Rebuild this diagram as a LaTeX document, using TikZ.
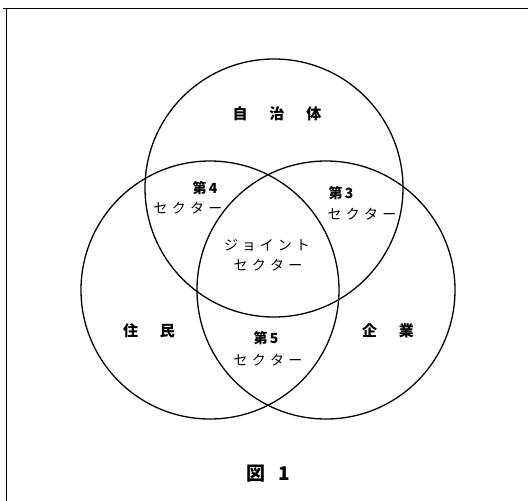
\documentclass[tikz,border=0pt]{standalone}
\usepackage{fontspec}
\newfontfamily\jp{Noto Sans CJK JP}
\newcommand{\sekuta}{セ\kern4.2ptク\kern4.2ptタ\kern4.2ptー}
\begin{document}
\begin{tikzpicture}[x=1pt,y=-1pt,
  ring/.style={circle,draw,line width=1.3pt,inner sep=0pt,minimum size=258pt},
  lbl/.style={inner sep=0pt,font=\jp\fontsize{14pt}{18pt}\selectfont},
  num/.style={inner sep=0pt,font=\jp\bfseries\fontsize{14pt}{18pt}\selectfont},
  big/.style={inner sep=0pt,font=\jp\bfseries\fontsize{15pt}{18pt}\selectfont},
  frameline/.style={line width=0.9pt}]
\useasboundingbox (0,0) rectangle (528,501);
\coordinate (f1) at (3,8);
\coordinate (f2) at (528,8);
\coordinate (f3) at (6,8);
\coordinate (f4) at (6,501);
\draw[frameline] (f1) -- (f2);
\draw[frameline] (f3) -- (f4);
\node[ring] (gov) at (274,188) {};
\node[ring] (res) at (210,290) {};
\node[ring] (ent) at (326,290) {};
\node[big] (tgov) at (277,114) {自\hspace{22pt}治\hspace{22pt}体};
\node[big] (tres) at (149,331) {住\hspace{22pt}民};
\node[big] (tent) at (388,331) {企\hspace{22pt}業};
\node[num] (n4) at (205,188) {第\,4};
\node[lbl] (s4) at (188,208) {\sekuta};
\node[num] (n3) at (341,193) {第\,3};
\node[lbl] (s3) at (362,214) {\sekuta};
\node[lbl] (jt) at (267,245) {ジ\kern4ptョ\kern4ptイ\kern4ptン\kern4ptト};
\node[lbl] (sj) at (268,265) {\sekuta};
\node[num] (n5) at (266,338) {第\,5};
\node[lbl] (s5) at (268,360) {\sekuta};
\node[inner sep=0pt,font=\jp\bfseries\fontsize{19pt}{22pt}\selectfont] (fig) at (268,474) {図\hspace{13pt}1};
\end{tikzpicture}
\end{document}
